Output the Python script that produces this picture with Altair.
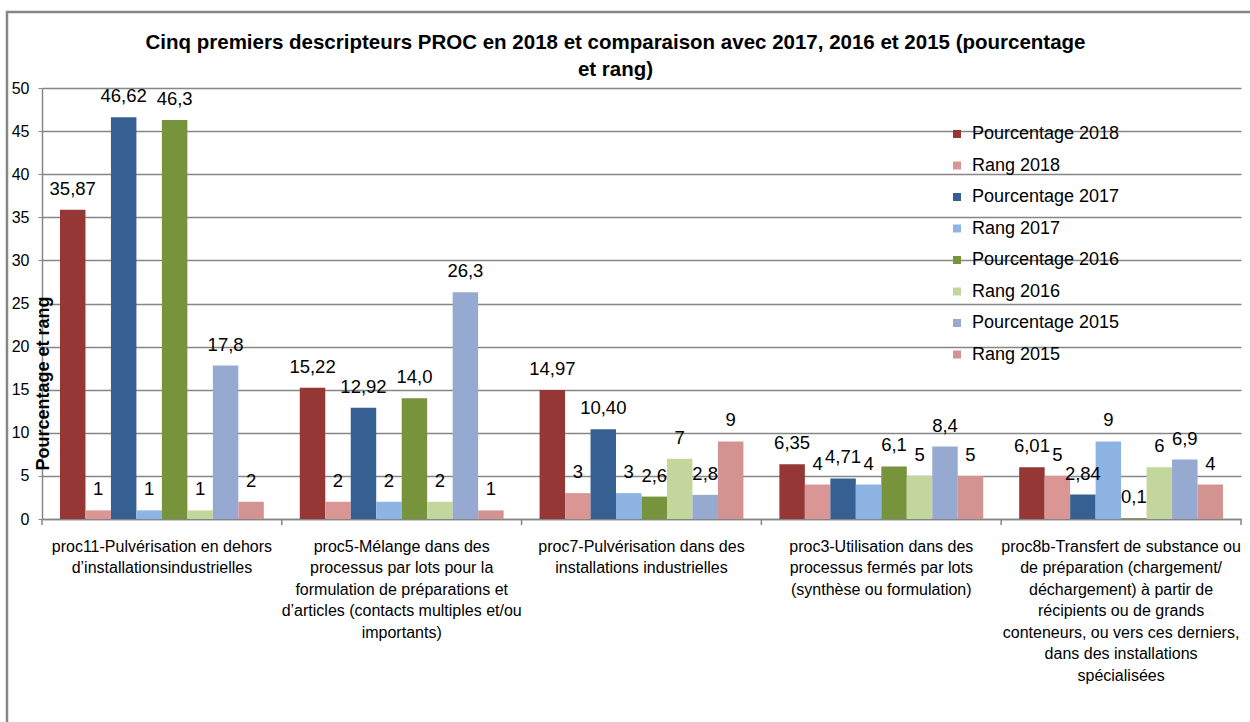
import altair as alt
import pandas as pd

categories = [
    "proc11-Pulvérisation en dehors|d’installationsindustrielles",
    "proc5-Mélange dans des|processus par lots pour la|formulation de préparations et|d’articles (contacts multiples et/ou|importants)",
    "proc7-Pulvérisation dans des|installations industrielles",
    "proc3-Utilisation dans des|processus fermés par lots|(synthèse ou formulation)",
    "proc8b-Transfert de substance ou|de préparation (chargement/|déchargement) à partir de|récipients ou de grands|conteneurs, ou vers ces derniers,|dans des installations|spécialisées",
]

series_names = [
    "Pourcentage 2018", "Rang 2018",
    "Pourcentage 2017", "Rang 2017",
    "Pourcentage 2016", "Rang 2016",
    "Pourcentage 2015", "Rang 2015",
]

pct_2018 = [35.87, 15.22, 14.97, 6.35, 6.01]
rang_2018 = [1, 2, 3, 4, 5]
pct_2017 = [46.62, 12.92, 10.40, 4.71, 2.84]
rang_2017 = [1, 2, 3, 4, 9]
pct_2016 = [46.3, 14.0, 2.6, 6.1, 0.1]
rang_2016 = [1, 2, 7, 5, 6]
pct_2015 = [17.8, 26.3, 2.8, 8.4, 6.9]
rang_2015 = [2, 1, 9, 5, 4]

decimals = [2, 0, 2, 0, 1, 0, 1, 0]

colors = ["#953735", "#D99694", "#376092", "#8EB4E3", "#77933C", "#C3D69B", "#95A9D1", "#D39391"]

series_values = [pct_2018, rang_2018, pct_2017, rang_2017, pct_2016, rang_2016, pct_2015, rang_2015]

rows = []
for s, vals, d in zip(series_names, series_values, decimals):
    for c, v in zip(categories, vals):
        rows.append({
            "cat": c,
            "series": s,
            "value": v,
            "label": f"{v:.{d}f}".replace(".", ","),
        })
df = pd.DataFrame(rows)

FONT = "Liberation Sans"
GRAY = "#868686"

x_scale = alt.Scale(paddingInner=0.15, paddingOuter=0.075)

base = alt.Chart(df).encode(
    x=alt.X(
        "cat:N",
        sort=categories,
        scale=x_scale,
        axis=alt.Axis(
            title=None,
            labelAngle=0,
            labelExpr="split(datum.label, '|')",
            labelFontSize=16,
            labelLineHeight=21.5,
            labelPadding=19,
            labelBaseline="top",
            labelLimit=400,
            ticks=False,
            domainColor=GRAY,
            domainWidth=1.5,
            labelColor="#000000",
        ),
    ),
    xOffset=alt.XOffset("series:N", sort=series_names,
                        scale=alt.Scale(paddingInner=0, paddingOuter=0)),
    y=alt.Y(
        "value:Q",
        scale=alt.Scale(domain=[0, 50], nice=False),
        axis=alt.Axis(
            values=list(range(0, 51, 5)),
            title="Pourcentage et rang",
            titleFontSize=18,
            titleFontWeight="bold",
            titleAngle=270,
            titleX=1,
            titleY=295,
            titleAlign="center",
            titleBaseline="middle",
            titleColor="#000000",
            labelFontSize=16,
            labelPadding=9,
            tickSize=4,
            tickColor=GRAY,
            domainColor=GRAY,
            domainWidth=1.5,
            gridColor=GRAY,
            gridWidth=1.5,
            labelColor="#000000",
        ),
    ),
)

bars = base.mark_bar().encode(
    color=alt.Color(
        "series:N",
        scale=alt.Scale(domain=series_names, range=colors),
        legend=alt.Legend(
            title=None,
            orient="none",
            legendX=906,
            legendY=37,
            symbolType="square",
            symbolSize=64,
            symbolStrokeWidth=0,
            labelFontSize=18,
            labelOffset=6,
            rowPadding=13.5,
            padding=0,
            labelLimit=400,
            labelColor="#000000",
        ),
    )
)

labels = base.mark_text(baseline="alphabetic", dy=-15, fontSize=18.5, color="#000000").encode(
    text="label:N"
)

# category boundary ticks on the x axis (Excel style)
tick_df = pd.DataFrame({"cat": categories})
ticks_start = alt.Chart(tick_df).mark_rule(color=GRAY, strokeWidth=1.5, xOffset=-18).encode(
    x=alt.X("cat:N", sort=categories, scale=x_scale, bandPosition=0),
    y=alt.value(431), y2=alt.value(437),
)
ticks_end = alt.Chart(pd.DataFrame({"cat": categories[-1:]})).mark_rule(
    color=GRAY, strokeWidth=1.5, xOffset=18
).encode(
    x=alt.X("cat:N", sort=categories, scale=x_scale, bandPosition=1),
    y=alt.value(431), y2=alt.value(437),
)

border = alt.Chart(pd.DataFrame({"k": [0]})).mark_rect(
    fill=None, stroke=GRAY, strokeWidth=2.5
).encode(
    x=alt.value(-35), x2=alt.value(1230),
    y=alt.value(-76), y2=alt.value(700),
)

chart = alt.layer(border, bars, labels, ticks_start, ticks_end).properties(
    width=1199,
    height=431,
    autosize=alt.AutoSizeParams(type="none"),
    padding={"left": 42, "top": 88, "right": 9, "bottom": 203},
    title=alt.TitleParams(
        text=[
            "Cinq premiers descripteurs PROC en 2018 et comparaison  avec 2017, 2016 et 2015 (pourcentage",
            "et rang)",
        ],
        fontSize=20.5,
        fontWeight="bold",
        font=FONT,
        color="#000000",
        lineHeight=27,
        anchor="middle",
        dx=-26,
        dy=78,
        offset=8,
    ),
).configure(
    font=FONT,
    background="#ffffff",
).configure_view(stroke=None)

chart.save("out.html", embed_options={"renderer": "svg", "actions": False})
